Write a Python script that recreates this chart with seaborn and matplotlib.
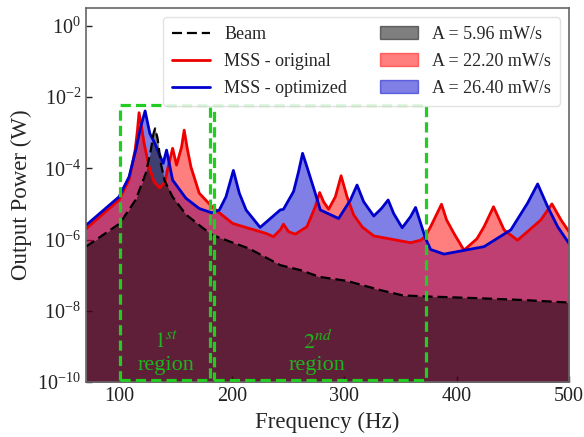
import numpy as np
import pandas as pd
import matplotlib
matplotlib.use("Agg")
import matplotlib.pyplot as plt
import seaborn as sns
from matplotlib.lines import Line2D
from matplotlib.patches import Patch, Rectangle

# ---------------- data (log10 of output power in W) ----------------
beam_freq = [70, 100, 114.3, 123.2, 127.7, 130.1, 131.5, 133.7, 136.6, 140.0, 147.0,
             159.0, 175.0, 183.0, 200.0, 215.0, 243.0, 261.0, 278.0, 302.0, 332.0,
             352.0, 374.0, 421.0, 460.0, 500.0]
beam_logp = [-6.20, -5.55, -4.88, -4.14, -3.49, -3.02, -2.88, -3.16, -3.86, -4.35, -4.80,
             -5.30, -5.70, -5.88, -6.08, -6.25, -6.72, -6.86, -7.05, -7.16, -7.42,
             -7.57, -7.60, -7.65, -7.70, -7.77]

orig_freq = [70, 99.4, 108.3, 113.7, 115.8, 117.2, 119.4, 121.7, 126.2, 130.6, 135.5,
             140.0, 143.1, 147.1, 150.6, 155.1, 157.4, 160.1, 163.4, 170.8, 182.8,
             200.6, 230.4, 236.9, 242.9, 245.8, 250.3, 256.3, 266.7, 274.1, 278.0,
             281.5, 286.0, 292.0, 297.1, 302.4, 308.3, 316.0, 326.2, 358.9, 367.9,
             372.0, 376.8, 386.5, 391.0, 397.6, 406.5, 418.0, 424.4, 432.8, 442.2,
             454.2, 475.0, 484.8, 492.9, 500.0]
orig_logp = [-5.70, -4.89, -4.33, -3.49, -2.93, -2.44, -2.83, -3.30, -3.96, -4.38, -4.55,
             -4.40, -3.96, -3.44, -3.91, -3.40, -2.93, -3.44, -3.96, -4.70, -5.10,
             -5.55, -5.83, -5.92, -5.73, -5.57, -5.78, -5.85, -5.64, -5.08, -4.68,
             -4.94, -5.15, -4.80, -4.21, -4.80, -5.31, -5.65, -5.90, -6.09, -6.02,
             -5.92, -5.64, -5.01, -5.45, -5.83, -6.30, -5.98, -5.64, -5.08, -5.73,
             -6.02, -5.45, -5.00, -5.45, -5.78]

opt_freq = [70, 99.4, 108.3, 114.3, 118.75, 122.6, 126.8, 131.25, 138.7, 141.7, 147.1,
            158.9, 170.8, 182.0, 188.7, 194.6, 201.2, 206.5, 212.5, 225.0, 242.9,
            245.8, 254.8, 259.2, 262.8, 266.7, 274.1, 278.6, 294.9, 305.4, 311.3,
            317.2, 326.2, 333.0, 339.0, 343.9, 351.5, 358.9, 363.4, 372.3, 376.8,
            388.7, 424.4, 448.2, 463.1, 472.1, 481.0, 489.9, 500.0]
opt_logp = [-5.60, -4.80, -4.24, -3.49, -2.83, -2.39, -3.02, -3.30, -3.86, -3.49, -4.33,
            -4.84, -5.13, -5.25, -5.17, -4.80, -4.06, -4.70, -5.17, -5.66, -5.17,
            -5.15, -4.65, -4.10, -3.58, -3.96, -4.70, -5.17, -5.41, -4.89, -4.47,
            -4.94, -5.34, -5.13, -4.89, -5.27, -5.67, -5.36, -5.10, -5.97, -6.28,
            -6.41, -6.20, -5.73, -4.98, -4.44, -5.08, -5.64, -6.11]

series_labels = ["Beam", "MSS - original", "MSS - optimized"]
area_labels = ["A = 5.96 mW/s", "A = 22.20 mW/s", "A = 26.40 mW/s"]
region_bounds = [(100, 180), (184, 373)]
region_top = 10 ** -2.226
region_bottom = 10 ** -9.94
region_texts = [("$1^{st}$", "region", 141), ("$2^{nd}$", "region", 276)]

beam = pd.DataFrame({"f": beam_freq, "P": np.power(10.0, beam_logp)})
orig = pd.DataFrame({"f": orig_freq, "P": np.power(10.0, orig_logp)})
opt = pd.DataFrame({"f": opt_freq, "P": np.power(10.0, opt_logp)})

# ---------------- style ----------------
sns.set_style("ticks")
plt.rcParams["font.family"] = ["Liberation Serif", "DejaVu Serif"]
plt.rcParams["mathtext.fontset"] = "stix"

RED = "#ee0000"
BLUE = "#0000cc"
GREEN = "#22cc22"
GREEN_TXT = "#1db41d"
FLOOR = 1e-10

fig = plt.figure(figsize=(5.84, 4.37), dpi=100)
ax = fig.add_axes([0.1473, 0.1259, 0.827, 0.8558])

# fills (blue first, red, then beam)
ax.fill_between(opt["f"], FLOOR, opt["P"], color=BLUE, alpha=0.5, lw=0)
ax.fill_between(orig["f"], FLOOR, orig["P"], color="red", alpha=0.5, lw=0)
ax.fill_between(beam["f"], FLOOR, beam["P"], color="black", alpha=0.5, lw=0)

sns.lineplot(data=orig, x="f", y="P", ax=ax, color=RED, lw=2, sort=False)
sns.lineplot(data=opt, x="f", y="P", ax=ax, color=BLUE, lw=2, sort=False)
sns.lineplot(data=beam, x="f", y="P", ax=ax, color="black", lw=1.6,
             linestyle=(0, (4.5, 2.2)), sort=False)

# region boxes
for (x0, x1) in region_bounds:
    ax.add_patch(Rectangle((x0, region_bottom), x1 - x0, region_top - region_bottom,
                           fill=False, edgecolor=GREEN, lw=2.3,
                           linestyle=(0, (3.2, 1.6)), zorder=5))
for sup, word, xc in region_texts:
    ax.text(xc, 10 ** -8.9, sup, ha="center", va="center", color=GREEN_TXT,
            fontsize=16, zorder=6)
    ax.text(xc, 10 ** -9.55, word, ha="center", va="center", color=GREEN_TXT,
            fontsize=16, zorder=6)

ax.set_yscale("log")
ax.set_xlim(70, 500)
ax.set_ylim(1e-10, 10 ** 0.5)
ax.set_yticks([1e-10, 1e-8, 1e-6, 1e-4, 1e-2, 1e0])
ax.yaxis.set_minor_locator(matplotlib.ticker.NullLocator())
ax.set_xticks([100, 200, 300, 400, 500])
ax.tick_params(direction="in", length=4, width=1, labelsize=14.5, colors="#222222")
for s in ax.spines.values():
    s.set_color("#666666")
    s.set_linewidth(1.2)
    s.set_visible(True)

ax.set_xlabel("Frequency (Hz)", fontsize=16.5, labelpad=4)
ax.set_ylabel("Output Power (W)", fontsize=16.5, labelpad=4)

handles = [
    Line2D([], [], color="black", lw=1.6, linestyle=(0, (4.5, 2.2))),
    Line2D([], [], color=RED, lw=2),
    Line2D([], [], color=BLUE, lw=2),
    Patch(facecolor="black", edgecolor="black", alpha=0.5),
    Patch(facecolor="red", edgecolor="red", alpha=0.5),
    Patch(facecolor=BLUE, edgecolor=BLUE, alpha=0.5),
]
labels = series_labels + area_labels
ax.legend(handles, labels, ncol=2, loc="upper right", fontsize=13,
          handlelength=2.1, columnspacing=1.8, labelspacing=0.55, borderpad=0.5,
          framealpha=0.85, edgecolor="#dddddd", fancybox=True)

fig.savefig("out.png", dpi=100)
